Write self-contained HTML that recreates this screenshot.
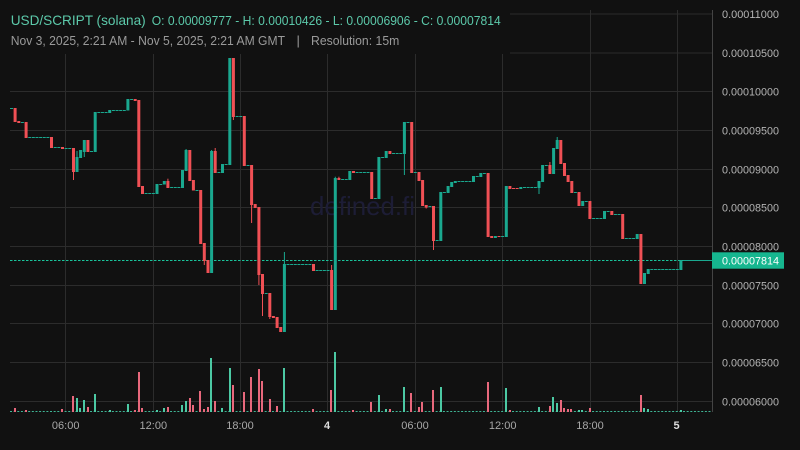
<!DOCTYPE html>
<html><head><meta charset="utf-8"><style>
html,body{margin:0;padding:0;background:#111111;width:800px;height:450px;overflow:hidden}
svg{display:block}
.t{fill:#1aa88f}.r{fill:#f05055}
.vt{fill:#4cc9a4}.vr{fill:#e8687c}
.ft{stroke:#1aa88f;stroke-width:1;stroke-dasharray:3 0.638;fill:none}
.fr{stroke:#f05055;stroke-width:1;stroke-dasharray:3 0.638;fill:none}
.yl{font-family:"Liberation Sans",sans-serif;font-size:11px;fill:#b4b4b4}
.xl{font-family:"Liberation Sans",sans-serif;font-size:11px;fill:#a8a8a8;text-anchor:middle}
</style></head><body>
<svg width="800" height="450" viewBox="0 0 800 450" xmlns="http://www.w3.org/2000/svg">
<rect width="800" height="450" fill="#111111"/>
<!-- grid -->
<g stroke="#2c2c2c" stroke-width="1">
<line x1="10" y1="14" x2="712" y2="14"/>
<line x1="10" y1="53" x2="712" y2="53"/>
<line x1="10" y1="91.5" x2="712" y2="91.5"/>
<line x1="10" y1="130.5" x2="712" y2="130.5"/>
<line x1="10" y1="169.5" x2="712" y2="169.5"/>
<line x1="10" y1="207.5" x2="712" y2="207.5"/>
<line x1="10" y1="246.5" x2="712" y2="246.5"/>
<line x1="10" y1="285.5" x2="712" y2="285.5"/>
<line x1="10" y1="323.5" x2="712" y2="323.5"/>
<line x1="10" y1="362.5" x2="712" y2="362.5"/>
<line x1="10" y1="401.5" x2="712" y2="401.5"/>
<line x1="65.5" y1="10" x2="65.5" y2="412"/>
<line x1="153.5" y1="10" x2="153.5" y2="412"/>
<line x1="240.5" y1="10" x2="240.5" y2="412"/>
<line x1="327.5" y1="10" x2="327.5" y2="412"/>
<line x1="415.5" y1="10" x2="415.5" y2="412"/>
<line x1="502.5" y1="10" x2="502.5" y2="412"/>
<line x1="590.5" y1="10" x2="590.5" y2="412"/>
<line x1="677.5" y1="10" x2="677.5" y2="412"/>
</g>
<line x1="712.5" y1="10" x2="712.5" y2="412" stroke="#444" stroke-width="1"/>
<!-- legend bg -->
<rect x="0" y="0" width="510" height="54" fill="#111111"/>
<!-- watermark -->
<text x="310" y="215" font-family="'Liberation Sans',sans-serif" font-size="26" fill="#1d1d36" textLength="105" lengthAdjust="spacingAndGlyphs">defined.fi</text>
<!-- volume -->
<line x1="10" y1="411.5" x2="712" y2="411.5" stroke="#3fb595" stroke-width="1" stroke-dasharray="2 1.638"/>
<g>
<rect class="vr" x="14" y="408" width="2" height="4"/>
<rect class="vr" x="25" y="410" width="2" height="2"/>
<rect class="vr" x="61" y="409" width="2" height="3"/>
<rect class="vr" x="72" y="396" width="2" height="16"/>
<rect class="vt" x="76" y="398" width="2" height="14"/>
<rect class="vt" x="79" y="408" width="2" height="4"/>
<rect class="vt" x="83" y="400" width="2" height="12"/>
<rect class="vr" x="87" y="407" width="2" height="5"/>
<rect class="vt" x="94" y="394" width="2" height="18"/>
<rect class="vt" x="109" y="410" width="2" height="2"/>
<rect class="vt" x="127" y="404" width="2" height="8"/>
<rect class="vr" x="134" y="410" width="2" height="2"/>
<rect class="vr" x="138" y="372" width="2" height="40"/>
<rect class="vr" x="141" y="408" width="2" height="4"/>
<rect class="vt" x="156" y="410" width="2" height="2"/>
<rect class="vt" x="163" y="408" width="2" height="4"/>
<rect class="vr" x="167" y="407" width="2" height="5"/>
<rect class="vt" x="181" y="405" width="2" height="7"/>
<rect class="vt" x="185" y="401" width="2" height="11"/>
<rect class="vr" x="189" y="398" width="2" height="14"/>
<rect class="vr" x="192" y="405" width="2" height="7"/>
<rect class="vr" x="199" y="391" width="2" height="21"/>
<rect class="vr" x="203" y="409" width="2" height="3"/>
<rect class="vr" x="207" y="407" width="2" height="5"/>
<rect class="vt" x="210" y="358" width="2" height="54"/>
<rect class="vr" x="214" y="401" width="2" height="11"/>
<rect class="vt" x="221" y="408" width="2" height="4"/>
<rect class="vt" x="229" y="368" width="2" height="44"/>
<rect class="vr" x="232" y="385" width="2" height="27"/>
<rect class="vr" x="243" y="392" width="2" height="20"/>
<rect class="vr" x="250" y="377" width="2" height="35"/>
<rect class="vr" x="258" y="369" width="2" height="43"/>
<rect class="vr" x="261" y="381" width="2" height="31"/>
<rect class="vr" x="269" y="399" width="2" height="13"/>
<rect class="vr" x="276" y="406" width="2" height="6"/>
<rect class="vt" x="283" y="368" width="2" height="44"/>
<rect class="vr" x="312" y="409" width="2" height="3"/>
<rect class="vr" x="330" y="390" width="2" height="22"/>
<rect class="vt" x="334" y="352" width="2" height="60"/>
<rect class="vr" x="352" y="410" width="2" height="2"/>
<rect class="vr" x="370" y="402" width="2" height="10"/>
<rect class="vt" x="378" y="395" width="2" height="17"/>
<rect class="vt" x="385" y="409" width="2" height="3"/>
<rect class="vr" x="389" y="409" width="2" height="3"/>
<rect class="vt" x="403" y="387" width="2" height="25"/>
<rect class="vr" x="410" y="393" width="2" height="19"/>
<rect class="vr" x="418" y="407" width="2" height="5"/>
<rect class="vr" x="421" y="402" width="2" height="10"/>
<rect class="vr" x="432" y="390" width="2" height="22"/>
<rect class="vt" x="440" y="387" width="2" height="25"/>
<rect class="vr" x="487" y="382" width="2" height="30"/>
<rect class="vt" x="505" y="388" width="2" height="24"/>
<rect class="vr" x="509" y="410" width="2" height="2"/>
<rect class="vt" x="538" y="407" width="2" height="5"/>
<rect class="vr" x="549" y="406" width="2" height="6"/>
<rect class="vt" x="552" y="397" width="2" height="15"/>
<rect class="vt" x="556" y="403" width="2" height="9"/>
<rect class="vr" x="560" y="400" width="2" height="12"/>
<rect class="vr" x="563" y="408" width="2" height="4"/>
<rect class="vr" x="567" y="409" width="2" height="3"/>
<rect class="vr" x="570" y="409" width="2" height="3"/>
<rect class="vt" x="578" y="410" width="2" height="2"/>
<rect class="vt" x="581" y="410" width="2" height="2"/>
<rect class="vr" x="589" y="408" width="2" height="4"/>
<rect class="vr" x="640" y="395" width="2" height="17"/>
<rect class="vt" x="643" y="408" width="2" height="4"/>
<rect class="vt" x="647" y="409" width="2" height="3"/>
<rect class="vt" x="680" y="410" width="2" height="2"/>
</g>
<!-- flat candles -->
<g>
<line class="ft" x1="10" y1="108.5" x2="13" y2="108.5"/>
<line class="ft" x1="20.9" y1="122.5" x2="23.9" y2="122.5"/>
<line class="ft" x1="28.2" y1="137.5" x2="50" y2="137.5"/>
<line class="ft" x1="53.7" y1="147.5" x2="60.9" y2="147.5"/>
<line class="ft" x1="64.6" y1="148.5" x2="71.8" y2="148.5"/>
<line class="ft" x1="90" y1="151.5" x2="93" y2="151.5"/>
<line class="ft" x1="97.3" y1="112.5" x2="108.2" y2="112.5"/>
<line class="ft" x1="111.9" y1="110.5" x2="126.4" y2="110.5"/>
<line class="ft" x1="130.1" y1="99.5" x2="133.1" y2="99.5"/>
<line class="ft" x1="144.6" y1="193.5" x2="155.5" y2="193.5"/>
<line class="ft" x1="159.2" y1="184.5" x2="162.2" y2="184.5"/>
<line class="ft" x1="170.1" y1="187.5" x2="181" y2="187.5"/>
<line class="ft" x1="195.5" y1="190.5" x2="198.5" y2="190.5"/>
<line class="ft" x1="217.4" y1="172.5" x2="220.4" y2="172.5"/>
<line class="ft" x1="224.6" y1="164.5" x2="227.6" y2="164.5"/>
<line class="ft" x1="235.6" y1="116.5" x2="242.8" y2="116.5"/>
<line class="ft" x1="246.5" y1="165.5" x2="249.5" y2="165.5"/>
<line class="ft" x1="264.7" y1="293.5" x2="267.7" y2="293.5"/>
<line class="ft" x1="286.5" y1="264.5" x2="312" y2="264.5"/>
<line class="ft" x1="315.6" y1="270.5" x2="330.1" y2="270.5"/>
<line class="ft" x1="341.1" y1="179.5" x2="348.3" y2="179.5"/>
<line class="ft" x1="355.6" y1="172.5" x2="370.2" y2="172.5"/>
<line class="ft" x1="373.8" y1="198.5" x2="376.8" y2="198.5"/>
<line class="ft" x1="381.1" y1="157.5" x2="384.1" y2="157.5"/>
<line class="ft" x1="392" y1="153.5" x2="402.9" y2="153.5"/>
<line class="ft" x1="406.5" y1="122.5" x2="409.5" y2="122.5"/>
<line class="ft" x1="413.8" y1="172.5" x2="416.8" y2="172.5"/>
<line class="ft" x1="428.4" y1="206.5" x2="431.4" y2="206.5"/>
<line class="ft" x1="435.6" y1="240.5" x2="438.6" y2="240.5"/>
<line class="ft" x1="442.9" y1="192.5" x2="445.9" y2="192.5"/>
<line class="ft" x1="457.5" y1="181.5" x2="472" y2="181.5"/>
<line class="ft" x1="475.7" y1="176.5" x2="478.7" y2="176.5"/>
<line class="ft" x1="482.9" y1="173.5" x2="485.9" y2="173.5"/>
<line class="ft" x1="501.1" y1="236.5" x2="504.1" y2="236.5"/>
<line class="fr" x1="497.5" y1="236.5" x2="500.5" y2="236.5"/>
<line class="fr" x1="512" y1="188.5" x2="519.3" y2="188.5"/>
<line class="ft" x1="523" y1="187.5" x2="537.5" y2="187.5"/>
<line class="ft" x1="544.8" y1="165.5" x2="547.8" y2="165.5"/>
<line class="ft" x1="573.9" y1="192.5" x2="576.9" y2="192.5"/>
<line class="ft" x1="584.8" y1="201.5" x2="587.8" y2="201.5"/>
<line class="ft" x1="592.1" y1="218.5" x2="603" y2="218.5"/>
<line class="ft" x1="606.6" y1="211.5" x2="609.6" y2="211.5"/>
<line class="ft" x1="613.9" y1="214.5" x2="621.2" y2="214.5"/>
<line class="ft" x1="624.8" y1="238.5" x2="635.7" y2="238.5"/>
<line class="ft" x1="650.3" y1="269.5" x2="679.4" y2="269.5"/>
</g>
<!-- current price line -->
<line x1="10" y1="260.5" x2="712" y2="260.5" stroke="#19c39a" stroke-width="1" stroke-dasharray="2.5 1.5"/>
<!-- candles -->
<g>
<rect class="r" x="13.6" y="108" width="3" height="14"/>
<rect class="r" x="17.3" y="121" width="3" height="2"/>
<rect class="r" x="24.6" y="122" width="3" height="16"/>
<rect class="r" x="50" y="137" width="3" height="11"/>
<rect class="r" x="61" y="147" width="3" height="2"/>
<rect class="r" x="72" y="148" width="3" height="24"/><rect class="r" x="73" y="172" width="1" height="8"/>
<rect class="t" x="75.5" y="157" width="3" height="15"/><rect class="t" x="76.5" y="151" width="1" height="6"/>
<rect class="t" x="79.1" y="150" width="3" height="8"/>
<rect class="t" x="82.8" y="140" width="3" height="12"/><rect class="t" x="83.8" y="152" width="1" height="5"/>
<rect class="r" x="86.4" y="140" width="3" height="12"/>
<rect class="t" x="93.7" y="112" width="3" height="40"/>
<rect class="t" x="108.2" y="110" width="3" height="3"/>
<rect class="t" x="126.4" y="99" width="3" height="11.5"/>
<rect class="r" x="133.7" y="99" width="3" height="2"/>
<rect class="r" x="137.3" y="100" width="3" height="87"/>
<rect class="r" x="141" y="186" width="3" height="8"/>
<rect class="t" x="155.5" y="184" width="3" height="10"/>
<rect class="t" x="162.8" y="181" width="3" height="3.5"/>
<rect class="r" x="166.4" y="181" width="3" height="7"/><rect class="r" x="167.4" y="178.7" width="1" height="3"/>
<rect class="t" x="181" y="170" width="3" height="18"/>
<rect class="t" x="184.6" y="150" width="3" height="21"/><rect class="t" x="185.6" y="149" width="1" height="2"/>
<rect class="r" x="188.3" y="150" width="3" height="31"/>
<rect class="r" x="191.9" y="180" width="3" height="10.5"/>
<rect class="r" x="199.2" y="190" width="3" height="54"/>
<rect class="r" x="202.8" y="243" width="3" height="18"/><rect class="r" x="203.8" y="261" width="1" height="4"/>
<rect class="r" x="206.5" y="260" width="3" height="13"/>
<rect class="t" x="210.1" y="151" width="3" height="122"/><rect class="t" x="211.1" y="150" width="1" height="2"/>
<rect class="r" x="213.7" y="151" width="3" height="22"/><rect class="r" x="214.7" y="148" width="1" height="3"/>
<rect class="t" x="221" y="164" width="3" height="9"/>
<rect class="t" x="228.3" y="58" width="3" height="107"/>
<rect class="r" x="231.9" y="58" width="3" height="59"/><rect class="r" x="232.9" y="117" width="1" height="3"/>
<rect class="r" x="242.8" y="116" width="3" height="50"/>
<rect class="r" x="250.1" y="165" width="3" height="40"/><rect class="r" x="251.1" y="205" width="1" height="18"/>
<rect class="r" x="253.7" y="204" width="3" height="4"/>
<rect class="r" x="257.4" y="207" width="3" height="68"/><rect class="r" x="258.4" y="275" width="1" height="10"/>
<rect class="r" x="261" y="274" width="3" height="20"/><rect class="r" x="262" y="294" width="1" height="22"/>
<rect class="r" x="268.3" y="293" width="3" height="24"/><rect class="r" x="269.3" y="317" width="1" height="2"/>
<rect class="r" x="271.9" y="316" width="3" height="2"/>
<rect class="r" x="275.6" y="317" width="3" height="11"/>
<rect class="r" x="279.2" y="327" width="3" height="5"/>
<rect class="t" x="282.9" y="264" width="3" height="68"/><rect class="t" x="283.9" y="252" width="1" height="12"/>
<rect class="r" x="312" y="264" width="3" height="7"/>
<rect class="r" x="330.1" y="270" width="3" height="40"/><rect class="r" x="331.1" y="265" width="1" height="5"/>
<rect class="t" x="333.8" y="178" width="3" height="132"/><rect class="t" x="334.8" y="176.7" width="1" height="2"/>
<rect class="r" x="337.4" y="178" width="3" height="2"/><rect class="r" x="338.4" y="176.7" width="1" height="2"/>
<rect class="t" x="348.3" y="171" width="3" height="9"/>
<rect class="r" x="352" y="171" width="3" height="2"/>
<rect class="r" x="370.2" y="172" width="3" height="27"/>
<rect class="t" x="377.4" y="157" width="3" height="42"/>
<rect class="t" x="384.7" y="151" width="3" height="7"/>
<rect class="r" x="388.4" y="151" width="3" height="3"/>
<rect class="t" x="402.9" y="122" width="3" height="32"/><rect class="t" x="403.9" y="154" width="1" height="21"/>
<rect class="r" x="410.2" y="122" width="3" height="51"/>
<rect class="r" x="417.5" y="172" width="3" height="9"/>
<rect class="r" x="421.1" y="180" width="3" height="26"/>
<rect class="r" x="424.7" y="205" width="3" height="2.5"/><rect class="r" x="425.7" y="207" width="1" height="1.5"/>
<rect class="r" x="432" y="206" width="3" height="35"/><rect class="r" x="433" y="241" width="1" height="9"/>
<rect class="t" x="439.3" y="192" width="3" height="49"/>
<rect class="t" x="446.6" y="186" width="3" height="7"/>
<rect class="t" x="450.2" y="182" width="3" height="5"/>
<rect class="t" x="453.8" y="181" width="3" height="2"/>
<rect class="t" x="472" y="176" width="3" height="6"/>
<rect class="t" x="479.3" y="173" width="3" height="4"/>
<rect class="r" x="486.6" y="173" width="3" height="64"/>
<rect class="r" x="490.2" y="236" width="3" height="2"/>
<rect class="t" x="493.9" y="236" width="3" height="2"/>
<rect class="t" x="504.8" y="186" width="3" height="51"/>
<rect class="r" x="508.4" y="186" width="3" height="3"/>
<rect class="t" x="519.3" y="187" width="3" height="2"/>
<rect class="t" x="537.5" y="181" width="3" height="7"/><rect class="t" x="538.5" y="188" width="1" height="6"/>
<rect class="t" x="541.1" y="165" width="3" height="17"/>
<rect class="r" x="548.4" y="165" width="3" height="9"/><rect class="r" x="549.4" y="162" width="1" height="3"/>
<rect class="t" x="552.1" y="148" width="3" height="26"/>
<rect class="t" x="555.7" y="140" width="3" height="9"/><rect class="t" x="556.7" y="137" width="1" height="3"/>
<rect class="r" x="559.3" y="140" width="3" height="24"/>
<rect class="r" x="563" y="163" width="3" height="13"/>
<rect class="r" x="566.6" y="175" width="3" height="7"/>
<rect class="r" x="570.3" y="181" width="3" height="12"/>
<rect class="r" x="577.5" y="192" width="3" height="14"/>
<rect class="t" x="581.2" y="201" width="3" height="5"/>
<rect class="r" x="588.4" y="201" width="3" height="18"/>
<rect class="t" x="603" y="211" width="3" height="8"/>
<rect class="r" x="610.3" y="211" width="3" height="4"/>
<rect class="r" x="621.2" y="214" width="3" height="25"/>
<rect class="t" x="635.7" y="234" width="3" height="5"/>
<rect class="r" x="639.4" y="234" width="3" height="50"/>
<rect class="t" x="643" y="273" width="3" height="11"/>
<rect class="t" x="646.7" y="269" width="3" height="5"/>
<rect class="t" x="679.4" y="260" width="3" height="10"/>
<rect class="t" x="683" y="260" width="29" height="1"/>
</g>
<!-- y labels -->
<g class="yl">
<text x="722" y="18" textLength="57" lengthAdjust="spacingAndGlyphs">0.00011000</text>
<text x="722" y="57" textLength="57" lengthAdjust="spacingAndGlyphs">0.00010500</text>
<text x="722" y="95.5" textLength="57" lengthAdjust="spacingAndGlyphs">0.00010000</text>
<text x="722" y="134.5" textLength="57" lengthAdjust="spacingAndGlyphs">0.00009500</text>
<text x="722" y="173.5" textLength="57" lengthAdjust="spacingAndGlyphs">0.00009000</text>
<text x="722" y="211.5" textLength="57" lengthAdjust="spacingAndGlyphs">0.00008500</text>
<text x="722" y="250.5" textLength="57" lengthAdjust="spacingAndGlyphs">0.00008000</text>
<text x="722" y="289.5" textLength="57" lengthAdjust="spacingAndGlyphs">0.00007500</text>
<text x="722" y="327.5" textLength="57" lengthAdjust="spacingAndGlyphs">0.00007000</text>
<text x="722" y="366.5" textLength="57" lengthAdjust="spacingAndGlyphs">0.00006500</text>
<text x="722" y="405.5" textLength="57" lengthAdjust="spacingAndGlyphs">0.00006000</text>
</g>
<rect x="712" y="252.3" width="72" height="16.4" fill="#16b68f"/>
<text x="722" y="264.5" font-family="'Liberation Sans',sans-serif" font-size="11" fill="#ffffff" textLength="57" lengthAdjust="spacingAndGlyphs">0.00007814</text>
<!-- x labels -->
<g class="xl">
<text x="65.7" y="429">06:00</text>
<text x="153.3" y="429">12:00</text>
<text x="240" y="429">18:00</text>
<text x="327" y="429" font-weight="bold" fill="#dddddd">4</text>
<text x="415" y="429">06:00</text>
<text x="502.7" y="429">12:00</text>
<text x="590" y="429">18:00</text>
<text x="676.5" y="429" font-weight="bold" fill="#dddddd">5</text>
</g>
<!-- header -->
<text x="10.7" y="25" font-family="'Liberation Sans',sans-serif" font-size="14" fill="#5cc9aa" textLength="135" lengthAdjust="spacingAndGlyphs">USD/SCRIPT (solana)</text>
<text x="151.7" y="25" font-family="'Liberation Sans',sans-serif" font-size="12.5" fill="#5cc9aa" textLength="349" lengthAdjust="spacingAndGlyphs">O: 0.00009777 - H: 0.00010426 - L: 0.00006906 - C: 0.00007814</text>
<text x="10.7" y="45" font-family="'Liberation Sans',sans-serif" font-size="13" fill="#9a9a9a" textLength="274.3" lengthAdjust="spacingAndGlyphs">Nov 3, 2025, 2:21 AM - Nov 5, 2025, 2:21 AM GMT</text>
<text x="296.5" y="45" font-family="'Liberation Sans',sans-serif" font-size="13" fill="#9a9a9a">|</text>
<text x="311" y="45" font-family="'Liberation Sans',sans-serif" font-size="13" fill="#9a9a9a" textLength="88.3" lengthAdjust="spacingAndGlyphs">Resolution: 15m</text>
</svg>
</body></html>
